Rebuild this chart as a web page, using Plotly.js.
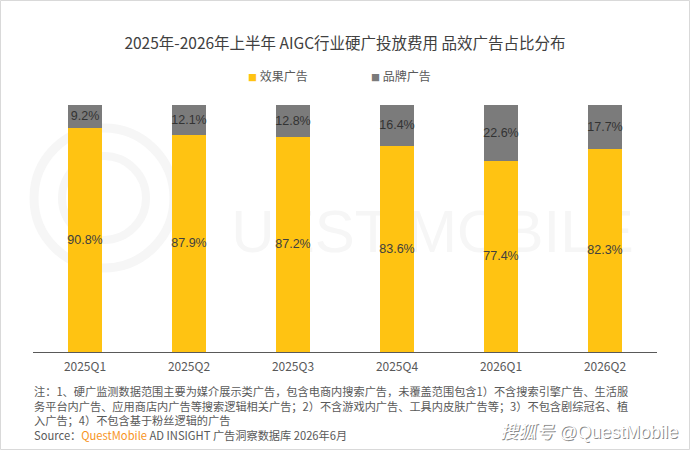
<!DOCTYPE html>
<html>
<head>
<meta charset="utf-8">
<script src="https://cdn.plot.ly/plotly-3.0.1.min.js"></script>
<style>
html,body{margin:0;padding:0;background:#fff;}
#chart{width:690px;height:451px;}
</style>
</head>
<body>
<div id="chart"></div>
<script>
// ---- data ----
const categories = ["2025Q1","2025Q2","2025Q3","2025Q4","2026Q1","2026Q2"];
const seriesNames = ["效果广告","品牌广告"];
const performanceAds = [90.8, 87.9, 87.2, 83.6, 77.4, 82.3];
const brandAds = [9.2, 12.1, 12.8, 16.4, 22.6, 17.7];
const titleText = "2025年-2026年上半年 AIGC行业硬广投放费用 品效广告占比分布";
const noteLines = [
  "注：1、硬广监测数据范围主要为媒介展示类广告，包含电商内搜索广告，未覆盖范围包含1）不含搜索引擎广告、生活服",
  "务平台内广告、应用商店内广告等搜索逻辑相关广告；2）不含游戏内广告、工具内皮肤广告等；3）不包含剧综冠名、植",
  "入广告；4）不包含基于粉丝逻辑的广告"
];
const sourceText = "Source：<span style='color:#F7941D'>QuestMobile</span> AD INSIGHT 广告洞察数据库 2026年6月";

// ---- styles ----
const FONT = "'Noto Sans CJK SC','Noto Sans',sans-serif";
const LABEL_FONT = "'Liberation Sans',Arial,sans-serif";
const yellow = "#FFC312";
const gray = "#7B7B7B";
const textCol = "#404040";

const W = 690, H = 451;
const L = 33, R = 33, T = 105, B = 99;
const pw = W - L - R, ph = H - T - B;
function px(x){ return (x - L) / pw; }
function py(y){ return (H - B - y) / ph; }

const traces = [
  {
    type: "bar", name: seriesNames[0], x: categories, y: performanceAds,
    marker: {color: yellow, line: {width: 0}},
    texttemplate: "%{y:.1f}%", textposition: "inside", insidetextanchor: "middle", textangle: 0,
    textfont: {family: LABEL_FONT, size: 12.5, color: textCol},
    constraintext: "none", hoverinfo: "x+y", width: 0.335
  },
  {
    type: "bar", name: seriesNames[1], x: categories, y: brandAds,
    marker: {color: gray, line: {width: 0}},
    texttemplate: "%{y:.1f}%", textposition: "inside", insidetextanchor: "middle", textangle: 0,
    textfont: {family: LABEL_FONT, size: 12.5, color: "#333333"},
    constraintext: "none", hoverinfo: "x+y", width: 0.335
  }
];

const annotations = [];
// legend (drawn as text)
const legendItems = [
  {x: 250, color: yellow, name: seriesNames[0]},
  {x: 373, color: gray, name: seriesNames[1]}
];
legendItems.forEach(it => {
  annotations.push({
    xref: "paper", yref: "paper", x: px(it.x - 4), y: py(75),
    xanchor: "left", yanchor: "middle", showarrow: false,
    text: "<span style='color:" + it.color + ";font-size:9px'>■</span> " + it.name,
    font: {family: FONT, size: 12, color: "#595959"}
  });
});
// notes + source as one block
annotations.push({
  xref: "paper", yref: "paper", x: px(32), y: py(413),
  xanchor: "left", yanchor: "middle", align: "left", showarrow: false,
  text: noteLines.join("<br>") + "<br>" + sourceText,
  font: {family: FONT, size: 11.2, color: "#595959"}
});
// bottom-right watermark (shadow + white)
annotations.push({
  xref: "paper", yref: "paper", x: px(681), y: py(433),
  xanchor: "right", yanchor: "middle", showarrow: false,
  text: "<i>搜狐号</i> @QuestMobile",
  font: {family: "'Liberation Sans','Noto Sans CJK SC',sans-serif", size: 18, color: "#8a8a8a"}
});
annotations.push({
  xref: "paper", yref: "paper", x: px(680), y: py(432),
  xanchor: "right", yanchor: "middle", showarrow: false,
  text: "<i>搜狐号</i> @QuestMobile",
  font: {family: "'Liberation Sans','Noto Sans CJK SC',sans-serif", size: 18, color: "#ffffff"}
});

const shapes = [
  // outer frame
  {type: "rect", xref: "paper", yref: "paper", x0: px(0.5), x1: px(689.5), y0: py(0.5), y1: py(449.5),
   line: {color: "#d9d9d9", width: 1}, fillcolor: "rgba(0,0,0,0)", layer: "below"},
  // faint background logo
  {type: "circle", xref: "paper", yref: "paper", x0: px(34), x1: px(174), y0: py(128), y1: py(268),
   line: {color: "#f6f6f6", width: 9}, fillcolor: "rgba(0,0,0,0)", layer: "below"},
  {type: "circle", xref: "paper", yref: "paper", x0: px(62), x1: px(146), y0: py(156), y1: py(240),
   line: {color: "#f6f6f6", width: 8}, fillcolor: "rgba(0,0,0,0)", layer: "below"},
  {type: "rect", xref: "paper", yref: "paper", x0: px(200), x1: px(665), y0: py(200), y1: py(250),
   line: {width: 0}, fillcolor: "rgba(0,0,0,0)", layer: "below",
   label: {text: "UEST MOBILE", textposition: "middle center",
           font: {family: "'Liberation Sans',sans-serif", size: 60, color: "#f6f6f6"}}}
];

const layout = {
  width: W, height: H,
  margin: {l: L, r: R, t: T, b: B, pad: 0},
  paper_bgcolor: "#ffffff", plot_bgcolor: "rgba(0,0,0,0)",
  barmode: "stack",
  showlegend: false,
  uniformtext: {mode: false},
  title: {
    text: titleText, x: 0.5, xanchor: "center", xref: "paper",
    y: 1 - 44 / H, yref: "container", yanchor: "middle",
    font: {family: FONT, size: 15.5, color: "#404040"}
  },
  xaxis: {
    type: "category", showline: true, linecolor: "#595959", linewidth: 1,
    ticks: "", showgrid: false, zeroline: false, ticklabelstandoff: 4,
    tickfont: {family: FONT, size: 12, color: "#595959"}, fixedrange: true
  },
  yaxis: {
    range: [0, 100], visible: false, showgrid: false, zeroline: false, fixedrange: true
  },
  annotations: annotations,
  shapes: shapes,
  font: {family: FONT}
};

Plotly.newPlot("chart", traces, layout, {displayModeBar: false, staticPlot: true});
</script>
</body>
</html>
